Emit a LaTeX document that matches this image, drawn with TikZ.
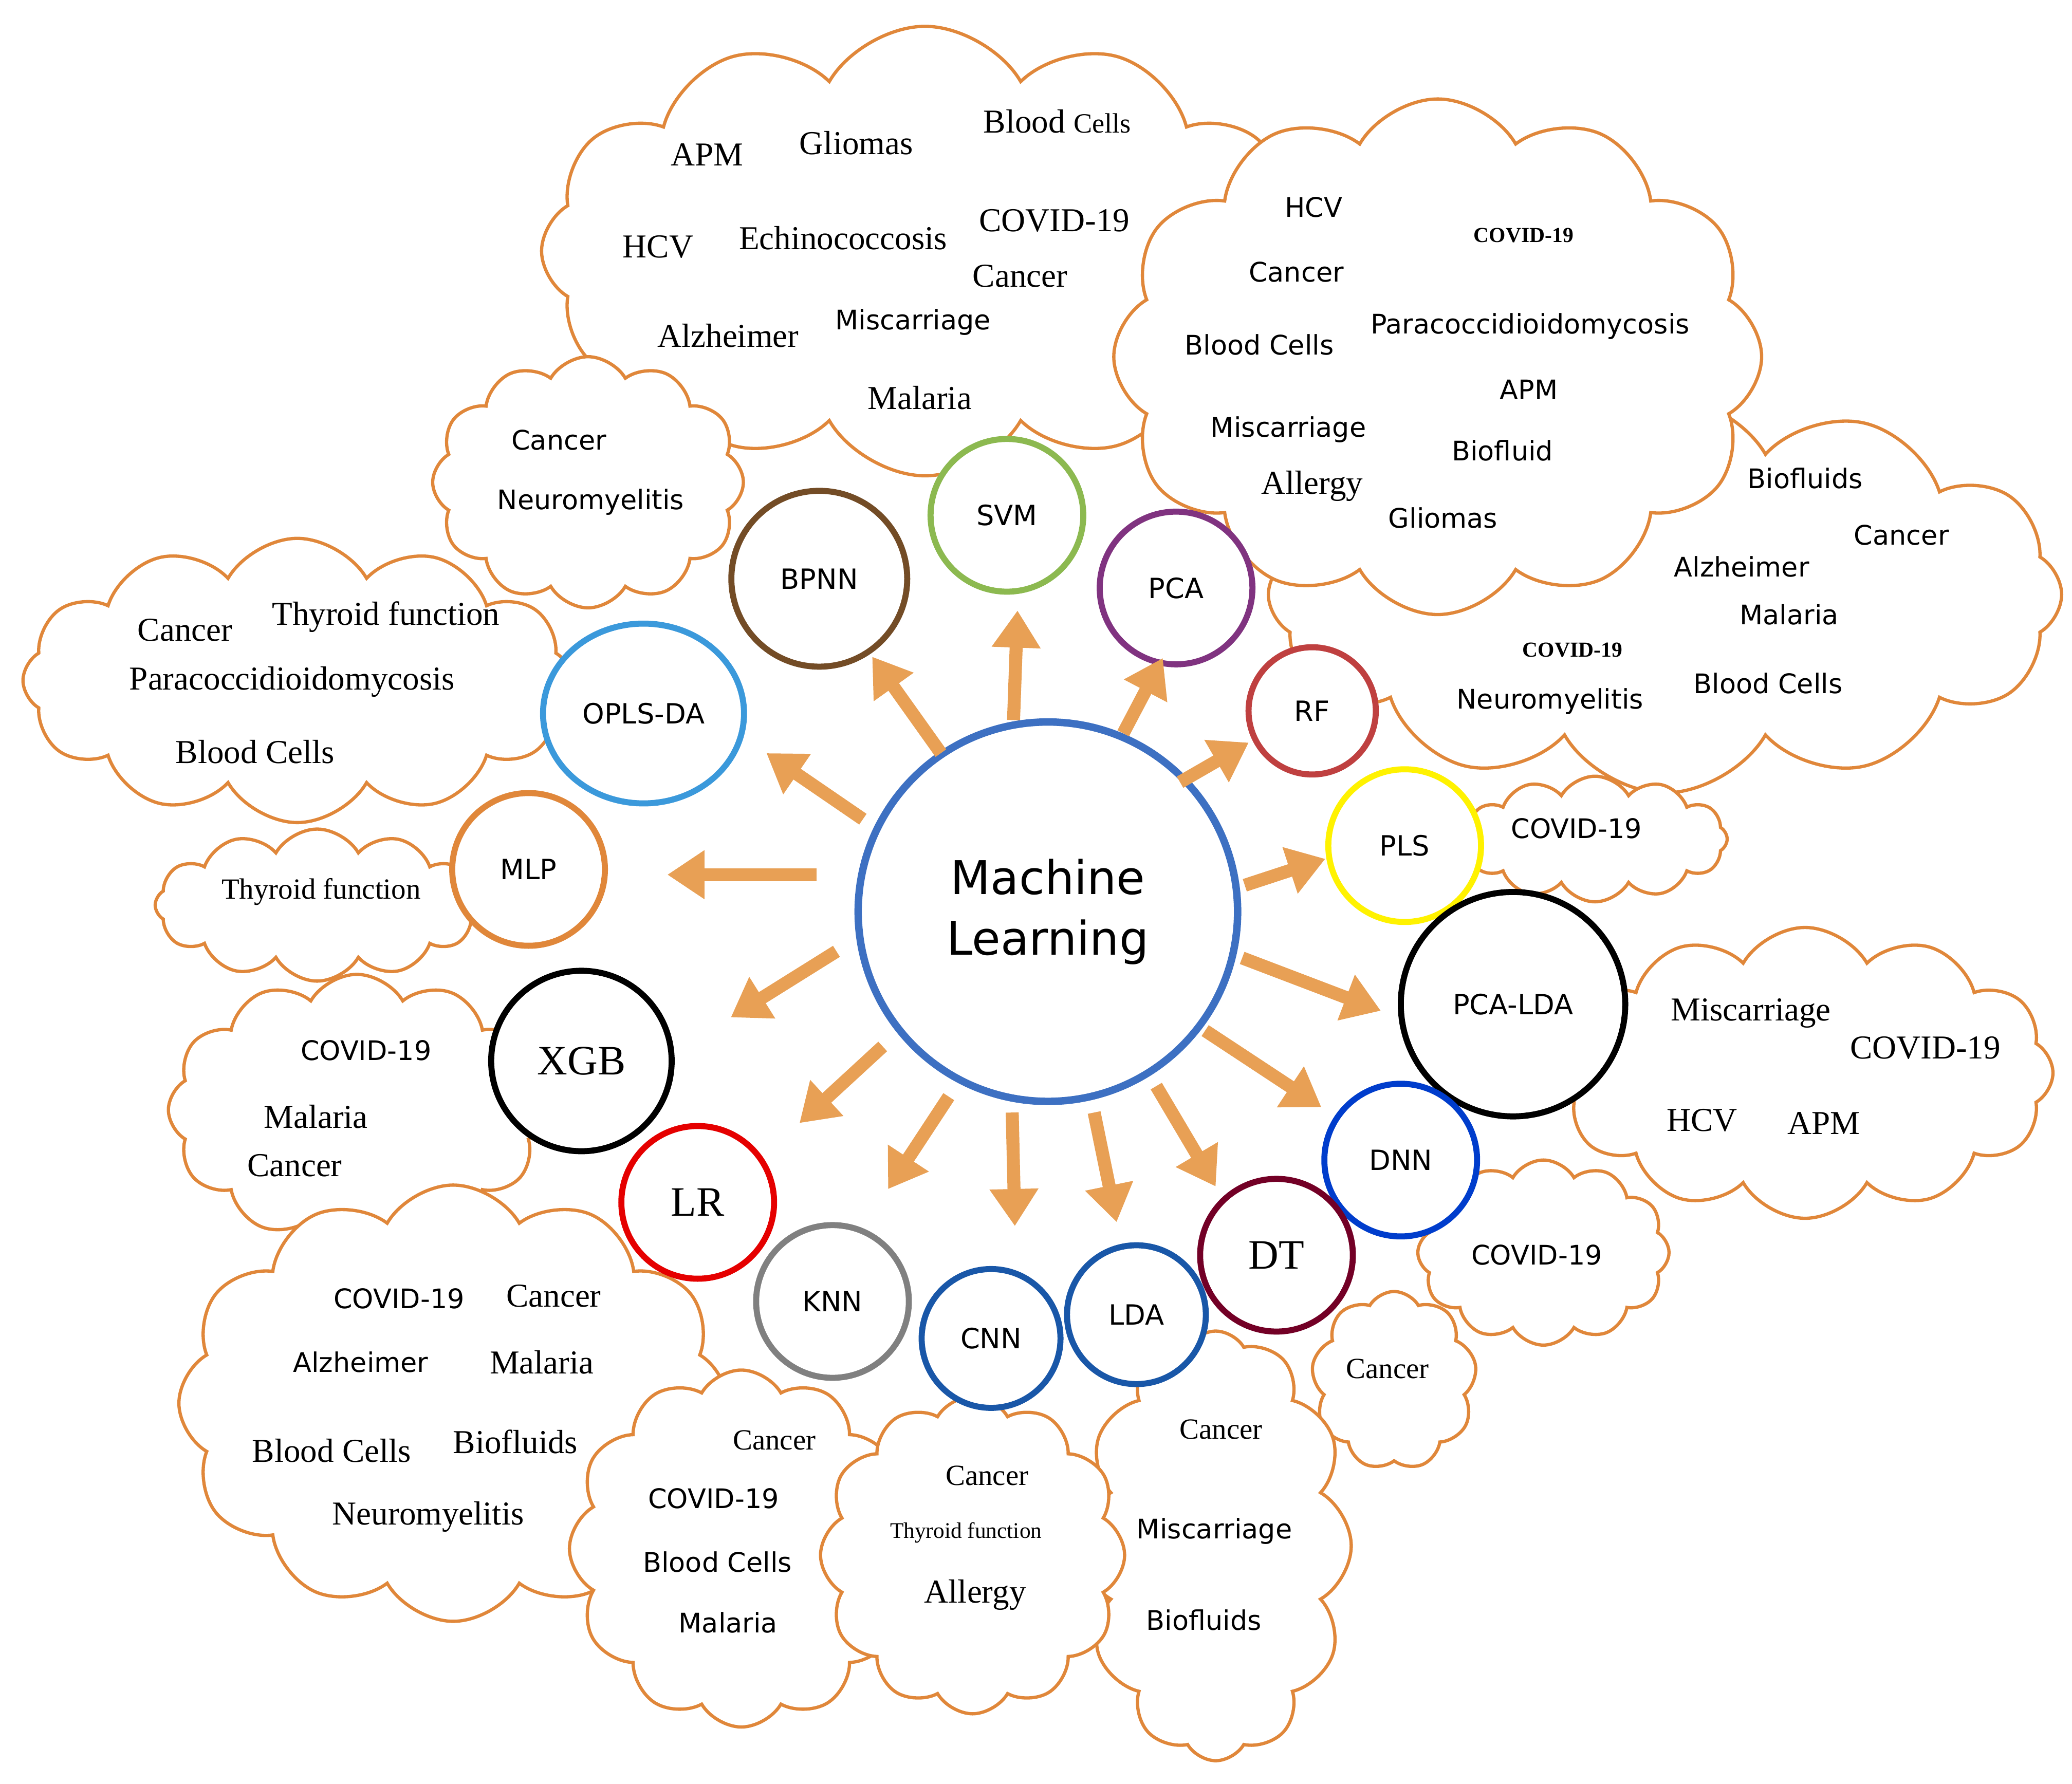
\documentclass[tikz,border=0pt]{standalone}
\usepackage{fontspec}
\setmainfont{Liberation Serif}
\newfontfamily\vsans{DejaVu Sans}
\usetikzlibrary{shapes.symbols,shapes.geometric,arrows.meta}
\definecolor{cl}{HTML}{E0873A}
\definecolor{ar}{HTML}{E8A055}
\begin{document}
\begin{tikzpicture}[x=0.01cm,y=-0.01cm,
 cld/.style={cloud,cloud puffs=12,cloud puff arc=120,draw=cl,line width=0.7pt,fill=white},
 mc/.style={circle,line width=1.3pt,fill=white,font=\vsans\fontsize{6}{7}\selectfont,inner sep=0pt},
 ts/.style={font=\vsans\fontsize{5.8}{7}\selectfont,inner sep=0pt},
 tr/.style={font=\fontsize{7.2}{8}\selectfont,inner sep=0pt},
 tb/.style={font=\bfseries\fontsize{4.6}{6}\selectfont,inner sep=0pt},
 arr/.style={draw=ar,line width=2.8pt,-{Triangle[width=10pt,length=8pt]}}]
\useasboundingbox (0,0) rectangle (1568,1350);
% clouds
\node[cld,minimum width=5.8cm,minimum height=3.4cm,aspect=1.7] (cSVM) at (700,190) {};
\node[cld,minimum width=6.0cm,minimum height=3.0cm,aspect=2] (cRF) at (1260,450) {};
\node[cld,minimum width=4.9cm,minimum height=3.9cm,aspect=1.25] (cPCA) at (1088,270) {};
\node[cld,minimum width=2.35cm,minimum height=1.9cm,aspect=1.2] (cBP) at (445,365) {};
\node[cld,minimum width=4.15cm,minimum height=2.15cm,aspect=1.9] (cOP) at (225,515) {};
\node[cld,minimum width=2.45cm,minimum height=1.15cm,aspect=2.1] (cMLP) at (240,685) {};
\node[cld,minimum width=2.0cm,minimum height=0.95cm,aspect=2.1] (cPLS) at (1207,635) {};
\node[cld,minimum width=3.75cm,minimum height=2.2cm,aspect=1.7] (cPL) at (1366,812) {};
\node[cld,minimum width=2.85cm,minimum height=2.05cm,aspect=1.4] (cXGB) at (270,840) {};
\node[cld,minimum width=1.9cm,minimum height=1.4cm,aspect=1.35] (cDNN) at (1168,948) {};
\node[cld,minimum width=4.15cm,minimum height=3.3cm,aspect=1.25] (cLR) at (343,1062) {};
\node[cld,cloud puffs=9,minimum width=1.25cm,minimum height=1.35cm,aspect=0.93] (cDT) at (1055,1045) {};
\node[cld,minimum width=2.6cm,minimum height=2.7cm,aspect=0.96] (cKNN) at (561,1172) {};
\node[cld,minimum width=2.05cm,minimum height=3.25cm,aspect=0.63] (cLDA) at (920,1170) {};
\node[cld,minimum width=2.3cm,minimum height=2.4cm,aspect=0.96] (cCNN) at (736,1177) {};
% cloud texts
\node[tr] (t1) at (535,117) {APM};
\node[tr] (t2) at (648,108) {Gliomas};
\node[tr] (t3) at (800,92) {Blood {\fontsize{6}{7}\selectfont Cells}};
\node[tr] (t4) at (498,187) {HCV};
\node[tr] (t5) at (638,180) {Echinococcosis};
\node[tr] (t6) at (798,167) {COVID-19};
\node[tr] (t7) at (772,209) {Cancer};
\node[tr] (t8) at (551,254) {Alzheimer};
\node[ts] (t9) at (691,244) {Miscarriage};
\node[tr] (t10) at (696,301) {Malaria};
\node[ts] (p1) at (994,157) {HCV};
\node[tb] (p2) at (1153,178) {COVID-19};
\node[ts] (p3) at (981,206) {Cancer};
\node[ts] (p4) at (1158,247) {Paracoccidioidomycosis};
\node[ts] (p5) at (953,261) {Blood Cells};
\node[ts] (p6) at (1157,295) {APM};
\node[ts] (p7) at (975,325) {Miscarriage};
\node[ts] (p8) at (1137,341) {Biofluid};
\node[tr] (p9) at (993,368) {Allergy};
\node[ts] (p10) at (1092,392) {Gliomas};
\node[ts] (r1) at (1366,362) {Biofluids};
\node[ts] (r2) at (1439,405) {Cancer};
\node[ts] (r3) at (1318,429) {Alzheimer};
\node[ts] (r4) at (1354,465) {Malaria};
\node[tb] (r5) at (1190,492) {COVID-19};
\node[ts] (r6) at (1338,517) {Blood Cells};
\node[ts] (r7) at (1173,531) {Neuromyelitis};
\node[ts] (b1) at (423,333) {Cancer};
\node[ts] (b2) at (447,380) {Neuromyelitis};
\node[tr] (o1) at (140,477) {Cancer};
\node[tr] (o2) at (292,467) {Thyroid function};
\node[tr] (o3) at (221,516) {Paracoccidioidomycosis};
\node[tr] (o4) at (193,569) {Blood Cells};
\node[tr,font=\fontsize{6.3}{7}\selectfont] (m1) at (243,675) {Thyroid function};
\node[ts] (s1) at (1193,627) {COVID-19};
\node[tr] (l1) at (1325,767) {Miscarriage};
\node[tr] (l2) at (1457,793) {COVID-19};
\node[tr] (l3) at (1288,848) {HCV};
\node[tr] (l4) at (1380,850) {APM};
\node[ts] (x1) at (277,795) {COVID-19};
\node[tr] (x2) at (239,845) {Malaria};
\node[tr] (x3) at (223,882) {Cancer};
\node[ts] (d1) at (1163,950) {COVID-19};
\node[ts] (lr1) at (302,983) {COVID-19};
\node[tr] (lr2) at (419,981) {Cancer};
\node[ts] (lr3) at (273,1031) {Alzheimer};
\node[tr] (lr4) at (410,1031) {Malaria};
\node[tr] (lr5) at (251,1098) {Blood Cells};
\node[tr] (lr6) at (390,1091) {Biofluids};
\node[tr] (lr7) at (324,1148) {Neuromyelitis};
\node[tr,font=\fontsize{6.3}{7}\selectfont] (dt1) at (1050,1036) {Cancer};
\node[tr,font=\fontsize{6.3}{7}\selectfont] (k1) at (586,1090) {Cancer};
\node[ts] (k2) at (540,1134) {COVID-19};
\node[ts] (k3) at (543,1182) {Blood Cells};
\node[ts] (k4) at (551,1228) {Malaria};
\node[tr,font=\fontsize{6.3}{7}\selectfont] (c1) at (747,1117) {Cancer};
\node[tr,font=\fontsize{4.8}{6}\selectfont] (c2) at (731,1160) {Thyroid function};
\node[tr] (c3) at (738,1207) {Allergy};
\node[tr,font=\fontsize{6.3}{7}\selectfont] (a1) at (924,1082) {Cancer};
\node[ts] (a2) at (919,1159) {Miscarriage};
\node[ts] (a3) at (911,1226) {Biofluids};
% method circles
\node[mc,draw=blue!40!gray!80!cyan,line width=1.6pt,minimum size=8.2cm*0.35,font=\vsans\fontsize{10}{13}\selectfont,align=center] (ML) at (793,690) {Machine\\Learning};
\node[mc,draw=olive!50!green!70!white,minimum size=3.3cm*0.35] (SVM) at (762,390) {SVM};
\node[mc,draw=brown!60!black,minimum size=3.8cm*0.35] (BPNN) at (620,438) {BPNN};
\node[mc,draw=violet!60!gray,minimum size=3.3cm*0.35] (PCA) at (890,445) {PCA};
\node[mc,ellipse,draw=cyan!70!blue!80!white,minimum width=1.52cm,minimum height=1.36cm] (OPLS) at (487,540) {OPLS-DA};
\node[mc,draw=red!50!gray,minimum size=2.75cm*0.35] (RF) at (993,538) {RF};
\node[mc,draw=cl,minimum size=3.3cm*0.35] (MLP) at (400,658) {MLP};
\node[mc,draw=yellow,minimum size=3.3cm*0.35] (PLS) at (1063,640) {PLS};
\node[mc,draw=black,minimum size=3.9cm*0.35,font=\fontsize{9}{10}\selectfont] (XGB) at (440,803) {XGB};
\node[mc,draw=black,minimum size=4.85cm*0.35] (PCALDA) at (1145,760) {PCA-LDA};
\node[mc,draw=red!90!black,minimum size=3.3cm*0.35,font=\fontsize{9}{10}\selectfont] (LR) at (528,910) {LR};
\node[mc,draw=blue!70!cyan!80!black,minimum size=3.3cm*0.35] (DNN) at (1060,878) {DNN};
\node[mc,draw=purple!60!black,minimum size=3.3cm*0.35,font=\fontsize{9}{10}\selectfont] (DT) at (966,950) {DT};
\node[mc,draw=gray,minimum size=3.3cm*0.35] (KNN) at (630,985) {KNN};
\node[mc,draw=teal!60!blue!80!gray,minimum size=3.0cm*0.35] (CNN) at (750,1013) {CNN};
\node[mc,draw=teal!60!blue!80!gray,minimum size=3.0cm*0.35] (LDA) at (860,995) {LDA};
% arrows
\foreach \i/\a/\b/\c/\d in {1/767/545/770/462, 2/712/570/660/497, 3/850/555/880/498, 4/653/620/580/570, 5/893/592/945/562, 6/618/662/505/662, 7/942/670/1003/650, 8/940/725/1045/765, 9/633/720/553/770, 10/912/780/1000/838, 11/668/792/605/850, 12/718/830/672/900, 13/766/842/768/928, 14/828/842/845/925, 15/875/822/920/898}{
 \coordinate (s\i) at (\a,\b); \coordinate (e\i) at (\c,\d);
 \draw[arr] (s\i) -- (e\i);}
\end{tikzpicture}
\end{document}
